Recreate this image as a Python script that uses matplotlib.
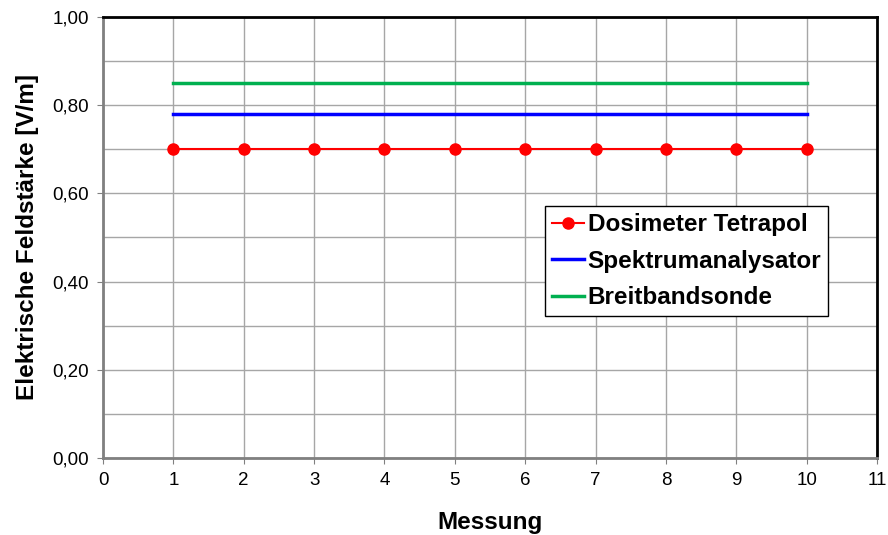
import matplotlib
matplotlib.use("Agg")
import matplotlib.pyplot as plt
from matplotlib.ticker import MultipleLocator, FuncFormatter

plt.rcParams['font.family'] = ['Liberation Sans', 'DejaVu Sans']

messung = [1, 2, 3, 4, 5, 6, 7, 8, 9, 10]
dosimeter = [0.70, 0.70, 0.70, 0.70, 0.70, 0.70, 0.70, 0.70, 0.70, 0.70]
spektrum = [0.78, 0.78, 0.78, 0.78, 0.78, 0.78, 0.78, 0.78, 0.78, 0.78]
breitband = [0.85, 0.85, 0.85, 0.85, 0.85, 0.85, 0.85, 0.85, 0.85, 0.85]

fig = plt.figure(figsize=(8.88, 5.35), dpi=100)
ax = fig.add_axes([103 / 888, 1 - 458 / 535, (877 - 103) / 888, (458 - 17) / 535])

ax.plot(messung, dosimeter, color='#ff0000', lw=1.5, marker='o', ms=8,
        label='Dosimeter Tetrapol', zorder=3)
ax.plot(messung, spektrum, color='#0000ff', lw=2.5, label='Spektrumanalysator', zorder=3)
ax.plot(messung, breitband, color='#00b050', lw=2.5, label='Breitbandsonde', zorder=3)

ax.set_xlim(0, 11)
ax.set_ylim(0, 1.0)
ax.xaxis.set_major_locator(MultipleLocator(1))
ax.yaxis.set_major_locator(MultipleLocator(0.2))
ax.yaxis.set_minor_locator(MultipleLocator(0.1))
ax.yaxis.set_major_formatter(FuncFormatter(lambda v, p: f"{v:.2f}".replace('.', ',')))

ax.grid(True, which='both', color='#a6a6a6', lw=1.0)
ax.set_axisbelow(True)
ax.tick_params(which='minor', length=0)
ax.tick_params(which='major', length=4, color='#808080', labelsize=13.5, pad=6)

for side in ('left', 'bottom'):
    ax.spines[side].set_color('#808080')
    ax.spines[side].set_linewidth(2)
for side in ('top', 'right'):
    ax.spines[side].set_color('black')
    ax.spines[side].set_linewidth(2)

ax.set_xlabel('Messung', fontsize=17.5, fontweight='bold', labelpad=16)
ax.set_ylabel('Elektrische Feldstärke [V/m]', fontsize=17.5, fontweight='bold', labelpad=10)

leg = ax.legend(loc='upper left', bbox_to_anchor=((545 - 103) / 774, 1 - (206 - 17) / 441),
                prop={'weight': 'bold', 'size': 17.5}, frameon=True, fancybox=False,
                edgecolor='black', framealpha=1, borderpad=0.3, handlelength=1.3,
                handletextpad=0.15, labelspacing=0.55, borderaxespad=0)
leg.get_frame().set_linewidth(1.0)

fig.savefig('out.png', dpi=100)
